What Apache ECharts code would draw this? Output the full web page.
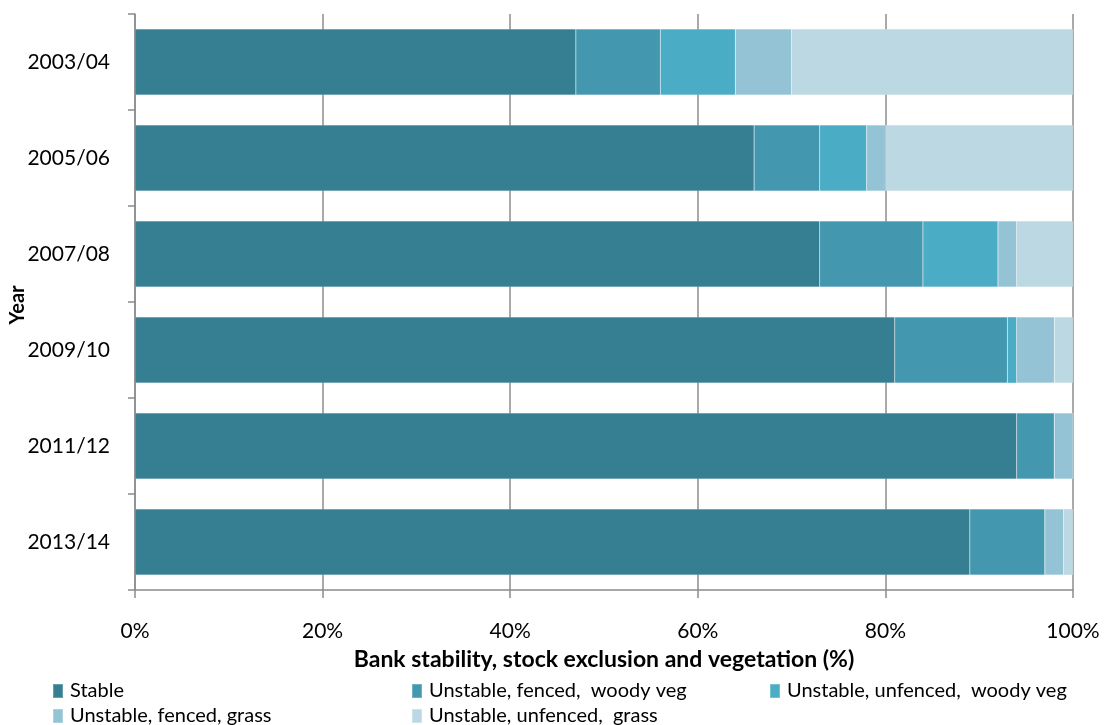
<!DOCTYPE html>
<html>
<head>
<meta charset="utf-8">
<script src="https://cdn.jsdelivr.net/npm/echarts@6/dist/echarts.min.js"></script>
<style>html,body{margin:0;padding:0;background:#fff}#c{width:1106px;height:725px}</style>
</head>
<body>
<div id="c"></div>
<script>
const categories = ['2003/04','2005/06','2007/08','2009/10','2011/12','2013/14'];
const stable = [47, 66, 73, 81, 94, 89];
const fencedWoody = [9, 7, 11, 12, 4, 8];
const unfencedWoody = [8, 5, 8, 1, 0, 0];
const fencedGrass = [6, 2, 2, 4, 2, 2];
const unfencedGrass = [30, 20, 6, 2, 0, 1];
const seriesNames = ['Stable','Unstable, fenced,  woody veg','Unstable, unfenced,  woody veg','Unstable, fenced, grass','Unstable, unfenced,  grass'];
const xTitle = 'Bank stability, stock exclusion and vegetation (%)';
const yTitle = 'Year';
const colors = ['#367F93','#4397AF','#4BACC6','#93C3D5','#BCD8E3'];
const values = [stable, fencedWoody, unfencedWoody, fencedGrass, unfencedGrass];

const FONT = 'Lato';
const chart = echarts.init(document.getElementById('c'));
const legendPos = [[52,681],[411,681],[769,681],[52,706],[411,706]];
chart.setOption({
  animation: false,
  textStyle: {fontFamily: FONT},
  grid: {left: 135, right: 33, top: 14, bottom: 135, containLabel: false, outerBoundsMode: 'none'},
  xAxis: {
    type: 'value', min: 0, max: 100, interval: 20,
    axisLabel: {formatter: '{value}%', fontSize: 21, color: '#000', margin: 31, fontFamily: FONT},
    axisLine: {show: true, lineStyle: {color: '#8c8c8c', width: 1.5}},
    axisTick: {show: true, length: 8, lineStyle: {color: '#8c8c8c', width: 1.5}},
    splitLine: {show: true, lineStyle: {color: '#8c8c8c', width: 1.5}}
  },
  yAxis: {
    type: 'category', data: categories, inverse: true,
    axisLabel: {fontSize: 21, color: '#000', margin: 25, fontFamily: FONT},
    axisLine: {show: true, lineStyle: {color: '#8c8c8c', width: 1.5}},
    axisTick: {show: true, length: 7, lineStyle: {color: '#8c8c8c', width: 1.5}}
  },
  graphic: [
    {type: 'text', x: 604, y: 660,
     style: {text: xTitle, font: 'bold 23px Lato', fill: '#000', align: 'center', verticalAlign: 'middle'}},
    {type: 'text', x: 18, y: 305, rotation: Math.PI / 2,
     style: {text: yTitle, font: 'bold 20px Lato', fill: '#000', align: 'center', verticalAlign: 'middle'}}
  ],
  legend: seriesNames.map((n, i) => ({
    data: [n], left: legendPos[i][0], top: legendPos[i][1],
    itemWidth: 10, itemHeight: 14, itemGap: 5, padding: 0,
    icon: 'rect',
    textStyle: {fontSize: 20, color: '#000', fontFamily: FONT, padding: [0,0,0,2]}
  })),
  series: seriesNames.map((n, i) => ({
    name: n, type: 'bar', stack: 'total', data: values[i],
    barCategoryGap: '31%',
    itemStyle: {color: colors[i], borderColor: 'rgba(255,255,255,0.25)', borderWidth: 0.5}
  }))
});
</script>
</body>
</html>
